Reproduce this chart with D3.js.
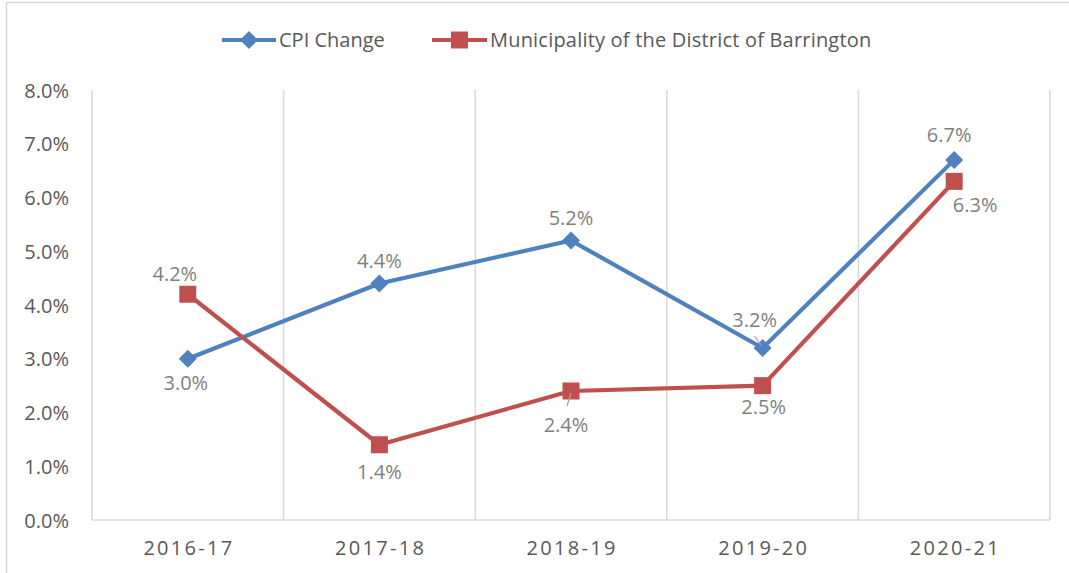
<!DOCTYPE html>
<html>
<head>
<meta charset="utf-8">
<script src="https://cdn.jsdelivr.net/npm/d3@7"></script>
<style>
  html, body { margin: 0; padding: 0; background: #fff; }
  svg { display: block; font-family: "Open Sans", sans-serif; }
</style>
</head>
<body>
<svg id="chart" width="1069" height="573"></svg>
<script>
// Fiscal years on the category axis
const years = ["2016-17", "2017-18", "2018-19", "2019-20", "2020-21"];
// Year-over-year change, in percent
const cpiChange = [3.0, 4.4, 5.2, 3.2, 6.7];
const barrington = [4.2, 1.4, 2.4, 2.5, 6.3];
// Value-axis ticks
const yTicks = [0, 1, 2, 3, 4, 5, 6, 7, 8];

const seriesNames = ["CPI Change", "Municipality of the District of Barrington"];
const colors = ["#4f81bd", "#c0504d"];

// Label placement for each point: [dx, dy] offsets from the marker
const cpiLabelPos = [[-2, 24], [0, -23], [0, -23], [-8, -28], [-5, -25]];
const barLabelPos = [[-13, -20], [0, 27], [-5, 34], [1, 21], [21, 23]];

const svg = d3.select("#chart");
const W = 1069, H = 573;
const m = { left: 92, right: 1050, top: 90, bottom: 520 };
const grid = "#d9d9d9";
const fs = 20;
const capOff = 0.357 * fs; // baseline offset to visually centre digits

// Outer chart border
svg.append("rect")
  .attr("x", 6.5).attr("y", 2.5)
  .attr("width", W).attr("height", H)
  .attr("fill", "none").attr("stroke", grid).attr("stroke-width", 1.5);

const x = d3.scaleBand().domain(years).range([m.left, m.right]);
const y = d3.scaleLinear().domain([0, 8]).range([m.bottom, m.top]);

// Vertical gridlines at category boundaries (incl. plot edges)
const bounds = years.map(d => x(d)).concat([m.right]);
svg.append("g").selectAll("line").data(bounds).join("line")
  .attr("x1", d => d).attr("x2", d => d)
  .attr("y1", m.top).attr("y2", m.bottom)
  .attr("stroke", grid).attr("stroke-width", 1.5);

// Category axis line
svg.append("line")
  .attr("x1", m.left).attr("x2", m.right)
  .attr("y1", m.bottom).attr("y2", m.bottom)
  .attr("stroke", grid).attr("stroke-width", 1.5);

// Value axis labels
const yAxis = d3.axisLeft(y).tickValues(yTicks)
  .tickFormat(d => d.toFixed(1) + "%").tickSize(0).tickPadding(23);
const gy = svg.append("g").attr("transform", `translate(${m.left},0)`).call(yAxis);
gy.select(".domain").remove();
gy.selectAll("text")
  .attr("font-family", "Open Sans").attr("font-size", fs)
  .attr("fill", "#595959").attr("dy", null)
  .attr("y", capOff);

// Category labels (letter-spaced)
const ls = 2.3;
const xAxis = d3.axisBottom(x).tickSize(0).tickPadding(0);
const gx = svg.append("g").attr("transform", `translate(0,${m.bottom})`).call(xAxis);
gx.select(".domain").remove();
gx.selectAll("text")
  .attr("font-family", "Open Sans").attr("font-size", fs)
  .attr("fill", "#595959").attr("dy", null)
  .attr("letter-spacing", ls)
  .attr("x", ls / 2)
  .attr("y", 28 + capOff);

const cx = d => x(d) + x.bandwidth() / 2;
const line = d3.line().x((d, i) => cx(years[i])).y(d => y(d));

const data = [cpiChange, barrington];
data.forEach((vals, si) => {
  svg.append("path").datum(vals)
    .attr("d", line)
    .attr("fill", "none")
    .attr("stroke", colors[si]).attr("stroke-width", 4.2)
    .attr("stroke-linejoin", "round");
});

// Markers: diamond for CPI, square for the municipality
function marker(g, type, px, py, color) {
  if (type === 0) {
    const r = 9;
    g.append("path")
      .attr("d", `M${px},${py - r}L${px + r},${py}L${px},${py + r}L${px - r},${py}Z`)
      .attr("fill", color);
  } else {
    const s = 17;
    g.append("rect").attr("x", px - s / 2).attr("y", py - s / 2)
      .attr("width", s).attr("height", s).attr("fill", color);
  }
}
const gm = svg.append("g");
data.forEach((vals, si) => {
  vals.forEach((v, i) => marker(gm, si, cx(years[i]), y(v), colors[si]));
});

// Leader lines for the two labels that sit off their point
const gl = svg.append("g");
gl.append("line")
  .attr("x1", cx(years[3]) - 8).attr("y1", y(cpiChange[3]) - 12)
  .attr("x2", cx(years[3]) - 1).attr("y2", y(cpiChange[3]) - 2)
  .attr("stroke", "#a6a6a6").attr("stroke-width", 1.3);
gl.append("line")
  .attr("x1", cx(years[2])).attr("y1", y(barrington[2]) + 2)
  .attr("x2", cx(years[2]) - 4).attr("y2", y(barrington[2]) + 15)
  .attr("stroke", "#a6a6a6").attr("stroke-width", 1.3);

// Data labels
const gd = svg.append("g")
  .attr("font-family", "Open Sans").attr("font-size", fs)
  .attr("fill", "#7f7f7f").attr("text-anchor", "middle");
[[cpiChange, cpiLabelPos], [barrington, barLabelPos]].forEach(([vals, pos]) => {
  vals.forEach((v, i) => {
    gd.append("text")
      .attr("x", cx(years[i]) + pos[i][0])
      .attr("y", y(v) + pos[i][1] + capOff)
      .text(v.toFixed(1) + "%");
  });
});

// Legend
const legend = svg.append("g");
const legendItems = [
  { x0: 222, x1: 276, tx: 279, ls: 0 },
  { x0: 432, x1: 487, tx: 490, ls: 0.2 }
];
const ly = 40;
legendItems.forEach((it, i) => {
  legend.append("line")
    .attr("x1", it.x0).attr("x2", it.x1).attr("y1", ly).attr("y2", ly)
    .attr("stroke", colors[i]).attr("stroke-width", 4.2);
  marker(legend, i, (it.x0 + it.x1) / 2, ly, colors[i]);
  legend.append("text")
    .attr("x", it.tx).attr("y", ly + capOff)
    .attr("font-family", "Open Sans").attr("font-size", fs)
    .attr("letter-spacing", it.ls)
    .attr("fill", "#595959")
    .text(seriesNames[i]);
});
</script>
</body>
</html>
